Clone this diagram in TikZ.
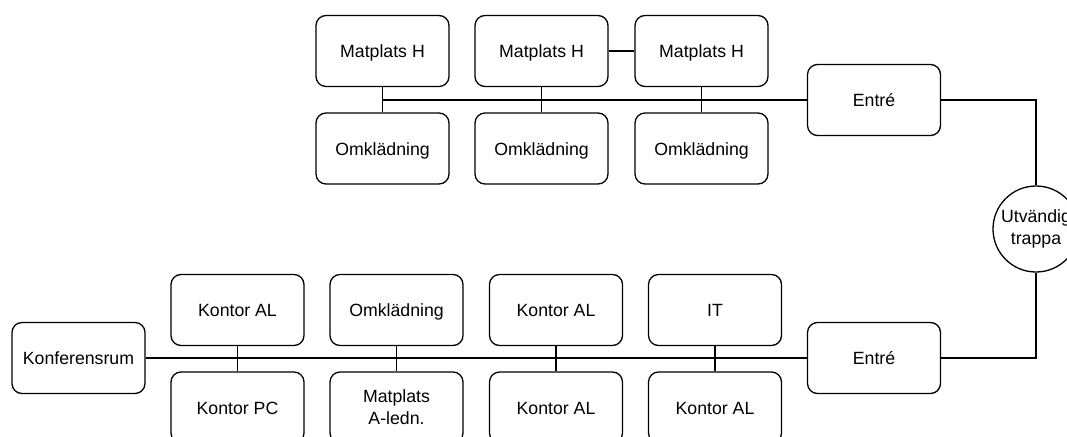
\documentclass[tikz,border=0pt]{standalone}
\usepackage{fontspec}
\setmainfont{Liberation Sans}
\begin{document}
\begin{tikzpicture}[x=1pt,y=-1pt,
  room/.style={draw, line width=1.3pt, rounded corners=10pt,
    minimum width=133pt, minimum height=71pt, inner sep=0pt,
    text height=13pt, text depth=0pt,
    align=center, font=\fontsize{17.7}{22}\selectfont},
  tworoom/.style={room, text height=, text depth=},
  stair/.style={draw, circle, line width=1.3pt, minimum size=86pt,
    inner sep=0pt, align=center, font=\fontsize{17.7}{22}\selectfont},
  link/.style={line width=1.3pt}]
\useasboundingbox (0,0) rectangle (1067,436);

% upper floor
\node[room] (mh1) at (382.5,51) {Matplats H};
\node[room] (mh2) at (541.5,51) {Matplats H};
\node[room] (mh3) at (701.5,51) {Matplats H};
\node[room] (om1) at (382.5,148.5) {Omklädning};
\node[room] (om2) at (541.5,148.5) {Omklädning};
\node[room] (om3) at (701.5,148.5) {Omklädning};
\node[room] (entreU) at (874,100) {Entré};

% outdoor stair
\node[stair] (trappa) at (1036,229) {Utvändig\\trappa};

% lower floor
\node[room] (konf) at (78.5,358) {Konferensrum};
\node[room] (ka1) at (237.5,310) {Kontor AL};
\node[room] (omL) at (396.5,310) {Omklädning};
\node[room] (ka2) at (556,310) {Kontor AL};
\node[room] (it) at (715,310) {IT};
\node[room] (kpc) at (237.5,407.5) {Kontor PC};
\node[tworoom] (mal) at (396.5,407.5) {Matplats\\A-ledn.};
\node[room] (ka3) at (556,407.5) {Kontor AL};
\node[room] (ka4) at (715,407.5) {Kontor AL};
\node[room] (entreL) at (874,358) {Entré};

% upper corridor
\coordinate (busU) at (382.5,100);
\draw[link] (busU) -- (entreU.west);
\draw[link] (mh1.south) -- (om1.north);
\draw[link] (mh2.south) -- (om2.north);
\draw[link] (mh3.south) -- (om3.north);
\draw[link] (mh2.east) -- (mh3.west);

% lower corridor
\draw[link] (konf.east) -- (entreL.west);
\draw[link] (ka1.south) -- (kpc.north);
\draw[link] (omL.south) -- (mal.north);
\draw[link] (ka2.south) -- (ka3.north);
\draw[link] (it.south) -- (ka4.north);

% stair connections
\draw[link] (entreU.east) -| (trappa.north);
\draw[link] (entreL.east) -| (trappa.south);
\end{tikzpicture}
\end{document}
